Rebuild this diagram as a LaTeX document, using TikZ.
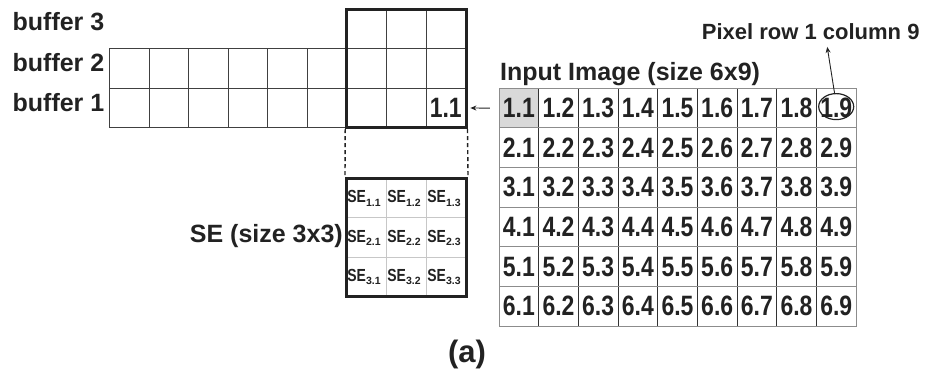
\documentclass[tikz,border=0pt]{standalone}
\usepackage{fontspec}
\setmainfont{Liberation Sans}
\newfontfamily\numsans{Liberation Sans}[FakeStretch=0.82]
\newfontfamily\sesans{Liberation Sans}[FakeStretch=0.8]
\usetikzlibrary{arrows.meta,shapes.geometric}

\definecolor{ink}{HTML}{222222}
\definecolor{cellgray}{HTML}{D9D9D9}

\tikzset{
  lbl/.style={font=\bfseries\fontsize{25}{25}\selectfont, text=ink, inner sep=0pt},
  numcell/.style={font=\numsans\bfseries\fontsize{28}{28}\selectfont, text=ink,
    inner sep=0pt, minimum width=39.67pt, minimum height=39.62pt},
  bufcell/.style={draw=black!75, line width=0.8pt, inner sep=0pt,
    minimum width=39.63pt, minimum height=39.5pt},
  secell/.style={draw=black!22, line width=0.6pt, inner sep=0pt,
    minimum width=40pt, minimum height=39.47pt},
  thickbox/.style={draw=ink, line width=3pt, inner sep=0pt},
  dashline/.style={draw=ink, line width=1.4pt, dash pattern=on 4pt off 3pt},
  arr/.style={draw=ink, line width=0.9pt, -{Stealth[length=6pt,width=5pt]}},
  vline/.style={draw=black!80, line width=0.9pt},
  hline/.style={draw=black!45, line width=0.9pt},
}

% SE entry with a lowered index
\newcommand{\seentry}[1]{{\sesans\bfseries\fontsize{17.5}{17.5}\selectfont SE}\raisebox{-3.5pt}{\bfseries\fontsize{10.5}{10.5}\selectfont #1}}

\begin{document}
\begin{tikzpicture}[x=1pt,y=-1pt]
\useasboundingbox (0,0) rectangle (933,377);

% ---------------- line buffers ----------------
\foreach \c in {1,...,9}{
  \node[bufcell] (buf-1-\c) at ({109.3+(\c-0.5)*39.63},108) {};
  \node[bufcell] (buf-2-\c) at ({109.3+(\c-0.5)*39.63},68.5) {};
}
\foreach \c in {7,8,9}{
  \node[bufcell] (buf-3-\c) at ({109.3+(\c-0.5)*39.63},29) {};
}
\node[font=\numsans\bfseries\fontsize{28}{28}\selectfont, text=ink, inner sep=0pt,
  anchor=east] (bufval) at ([xshift=-4.5pt]buf-1-9.east) {1.1};

% 3x3 window over the buffers
\node[thickbox, minimum width=119.3pt, minimum height=118.4pt] (win) at (406.35,68.5) {};

\node[lbl, anchor=base east] (lbl-b3) at (104.5,31) {buffer 3};
\node[lbl, anchor=base east] (lbl-b2) at (104.5,71.5) {buffer 2};
\node[lbl, anchor=base east] (lbl-b1) at (104.5,112) {buffer 1};

% ---------------- structuring element ----------------
\foreach \r in {1,2,3}{
  \foreach \c in {1,2,3}{
    \node[secell] (se-\r-\c) at ({346.5+(\c-0.5)*40},{178.3+(\r-0.5)*39.47}) {};
    \node[anchor=base west, inner sep=0pt, text=ink] (set-\r-\c)
      at ([xshift=1pt,yshift=-4.5pt]se-\r-\c.west) {\seentry{\r.\c}};
  }
}
\node[thickbox, minimum width=120pt, minimum height=118.4pt] (sebox) at (406.5,237.5) {};
\node[lbl, anchor=base east] (selbl) at (343,242) {SE (size 3x3)};

\draw[dashline] (win.south west) -- (sebox.north west);
\draw[dashline] (win.south east) -- (sebox.north east);

% ---------------- input image ----------------
\fill[cellgray] (499,88.3) rectangle ++(39.67,39.62);
\foreach \c in {1,...,8}{
  \draw[vline] ({499+\c*39.67},88.3) -- ({499+\c*39.67},326);
}
\foreach \r in {1,...,5}{
  \draw[hline] (499,{88.3+\r*39.62}) -- (856,{88.3+\r*39.62});
}
\draw[hline] (499,88.3) rectangle (856,326);
\foreach \r in {1,...,6}{
  \foreach \c in {1,...,9}{
    \node[numcell] (img-\r-\c) at ({499+(\c-0.5)*39.67},{88.3+(\r-0.5)*39.62}) {\r.\c};
  }
}
\node[lbl, anchor=base west] (imglbl) at (500,80.5) {Input Image (size 6x9)};

% pixel marker
\node[draw=ink, line width=1.2pt, ellipse, inner sep=0pt,
  minimum width=35pt, minimum height=26pt] (mark) at ([yshift=1.5pt]img-1-9.center) {};
\node[font=\bfseries\fontsize{22}{22}\selectfont, text=ink, inner sep=0pt,
  anchor=base west] (pixlbl) at (701.7,39.5) {Pixel row 1 column 9};
\draw[arr] (mark.97) -- ([xshift=16.5pt,yshift=-7pt]pixlbl.south);

% pixel entering buffer 1
\draw[arr] ([xshift=-9pt]img-1-1.west) -- ([xshift=4pt]buf-1-9.east);

% caption
\node[font=\bfseries\fontsize{31}{31}\selectfont, text=ink, inner sep=0pt] (cap) at (467,354) {(a)};
\end{tikzpicture}
\end{document}
